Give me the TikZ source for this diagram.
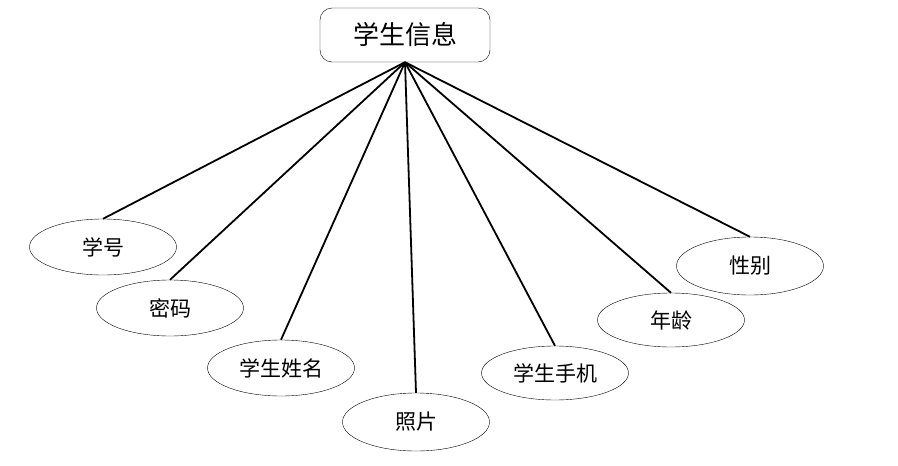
\documentclass[tikz,border=0pt]{standalone}
\usepackage{fontspec}
\usepackage{tikz}
\usetikzlibrary{shapes.geometric}
\newfontfamily\cjk{Noto Sans CJK SC}

\begin{document}
\begin{tikzpicture}[x=1pt, y=-1pt, every node/.style={draw, align=center, font=\cjk},
		attr/.style={ellipse, minimum width=147pt, minimum height=56pt, inner sep=0pt, font=\cjk\fontsize{21}{24}\selectfont},
		link/.style={line width=1.8pt}]
				\useasboundingbox (0,0) rectangle (898,466);
				\node (info) at (405,35) [rounded corners=12pt, minimum width=170pt, minimum height=54pt, font=\cjk\fontsize{26}{30}\selectfont] {学生信息};
				\node (sno) at (103,247) [attr] {学号};
				\node (pwd) at (170,308) [attr] {密码};
				\node (sname) at (281,368) [attr] {学生姓名};
				\node (photo) at (416,422) [attr, minimum height=58pt] {照片};
				\node (phone) at (555,373) [attr, minimum height=54pt] {学生手机};
				\node (age) at (671,320) [attr, minimum height=54pt] {年龄};
				\node (sex) at (750,266) [attr, minimum height=58pt] {性别};
				\draw[link] (info.south) -- (sno.north);
				\draw[link] (info.south) -- (pwd.north);
				\draw[link] (info.south) -- (sname.north);
				\draw[link] (info.south) -- (photo.north);
				\draw[link] (info.south) -- (phone.north);
				\draw[link] (info.south) -- (age.north);
				\draw[link] (info.south) -- (sex.north);
			\end{tikzpicture}
\end{document}
